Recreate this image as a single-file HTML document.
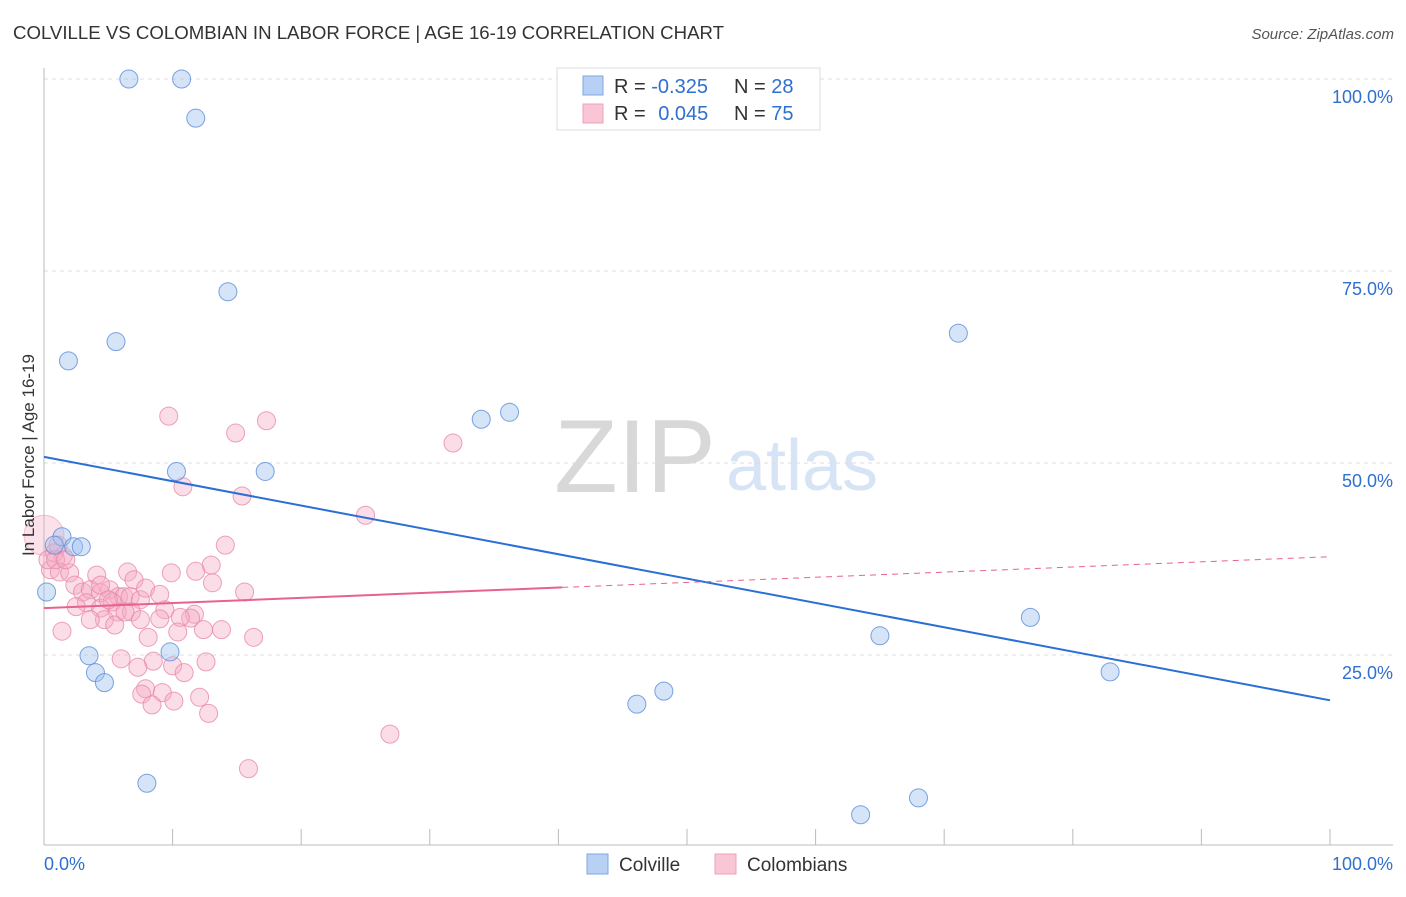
<!DOCTYPE html>
<html><head><meta charset="utf-8"><style>
body{margin:0;background:#fff;font-family:"Liberation Sans",sans-serif;}
svg text{font-family:"Liberation Sans",sans-serif;}
</style></head><body>
<svg id="chart" width="1406" height="892" xmlns="http://www.w3.org/2000/svg">
<text x="13" y="39" font-size="18" fill="#333" textLength="711" lengthAdjust="spacingAndGlyphs">COLVILLE VS COLOMBIAN IN LABOR FORCE | AGE 16-19 CORRELATION CHART</text>
<text x="1394" y="39" font-size="15" fill="#555" text-anchor="end" font-style="italic">Source: ZipAtlas.com</text>
<g>
<text x="635" y="492" font-size="104" fill="#d8d8d8" text-anchor="middle" font-family="Liberation Serif,serif">ZIP</text>
<text x="802" y="490" font-size="72" fill="#d6e4f5" text-anchor="middle">atlas</text>
</g>
<g id="grid"></g>
<g id="axes"></g>
<g id="marks"></g>
<text transform="translate(34,455) rotate(-90)" font-size="17" fill="#333" text-anchor="middle">In Labor Force | Age 16-19</text>
<g>
<rect x="557" y="68" width="263" height="62" fill="#fff" stroke="#ddd"/>
<rect x="583" y="76" width="20" height="19" fill="#b7d0f3" stroke="#7ea7e3"/>
<rect x="583" y="104" width="20" height="19" fill="#f9c6d5" stroke="#eea0b8"/>
<text x="614" y="93" font-size="20" fill="#333">R = <tspan fill="#2f6fd0">-0.325</tspan></text>
<text x="734" y="93" font-size="20" fill="#333">N = <tspan fill="#2f6fd0">28</tspan></text>
<text x="614" y="120" font-size="20" fill="#333">R = <tspan fill="#2f6fd0" dx="7">0.045</tspan></text>
<text x="734" y="120" font-size="20" fill="#333">N = <tspan fill="#2f6fd0">75</tspan></text>
</g>
<g>
<rect x="587" y="854" width="21" height="20" fill="#b7d0f3" stroke="#7ea7e3"/>
<text x="619" y="871" font-size="19" fill="#333">Colville</text>
<rect x="715" y="854" width="21" height="20" fill="#f9c6d5" stroke="#eea0b8"/>
<text x="747" y="871" font-size="19" fill="#333">Colombians</text>
</g>
</svg>
<script>
const yTicks=[25,50,75,100];
const yTickLabels=["25.0%","50.0%","75.0%","100.0%"];
const xTicks=[0,10,20,30,40,50,60,70,80,90,100];
const colvilleX=[6.6,10.7,11.8,14.3,5.6,1.9,10.3,17.2,34.0,36.2,71.1,1.4,2.3,2.9,0.8,0.2,3.5,4.0,4.7,9.8,8.0,46.1,48.2,65.0,76.7,82.9,63.5,68.0];
const colvilleY=[100,100,94.9,72.3,65.8,63.3,48.9,48.9,55.7,56.6,66.9,40.4,39.1,39.1,39.3,33.2,24.9,22.7,21.4,25.4,8.3,18.6,20.3,27.5,29.9,22.8,4.2,6.4];
const colombX=[9.7,17.3,14.9,31.8,10.8,15.4,25.0,14.1,13.0,9.9,11.8,6.5,4.1,13.1,15.6,0.8,1.5,0.5,1.2,2.0,2.4,3.0,3.6,4.4,5.1,5.8,6.2,6.7,7.5,5.3,3.3,2.5,4.4,5.7,6.8,9.4,11.7,11.4,10.6,9.0,4.7,3.6,5.5,8.1,10.4,12.4,13.8,16.3,1.4,6.0,8.5,10.0,12.6,10.9,7.3,7.9,7.6,9.2,8.4,10.1,12.1,12.8,26.9,15.9,1.1,0.3,0.9,1.7,4.4,7.0,7.9,9.0,6.3,7.5,5.0];
const colombY=[56.1,55.5,53.9,52.6,46.9,45.7,43.2,39.3,36.7,35.7,35.9,35.8,35.4,34.4,33.2,38.3,37.9,36.1,35.8,35.7,34.1,33.2,33.5,33.1,33.5,32.6,32.6,32.6,32.2,31.9,31.8,31.3,31.1,30.6,30.6,30.9,30.3,29.8,29.9,29.7,29.6,29.6,28.9,27.3,28.0,28.3,28.3,27.3,28.1,24.5,24.2,23.6,24.1,22.7,23.4,20.6,19.9,20.1,18.5,19.0,19.5,17.4,14.7,10.2,39.3,37.4,37.4,37.4,34.1,34.8,33.7,32.9,30.6,29.6,32.2];
const blueTrend=[50.8,19.1];
const pinkTrend=[31.1,37.8];
const pinkSolidEnd=40.3;

const NS="http://www.w3.org/2000/svg";
const X=v=>44+v*12.86, Y=v=>847-v*7.68;
function mk(parent,tag,attrs){const e=document.createElementNS(NS,tag);for(const k in attrs)e.setAttribute(k,attrs[k]);parent.appendChild(e);return e;}
const grid=document.getElementById('grid'),axes=document.getElementById('axes'),marks=document.getElementById('marks');
yTicks.forEach((t,i)=>{
  const l=mk(grid,'line',{x1:44,x2:1393,y1:Y(t),y2:Y(t),stroke:'#ddd','stroke-dasharray':'4,4'});
  
  
  const tx=mk(grid,'text',{x:1393,y:Y(t)+24,'font-size':18,fill:'#2f6fd0','text-anchor':'end'});
  tx.textContent=yTickLabels[i];
  
  
});
const xa=mk(axes,'line',{x1:44,x2:1393,y1:845,y2:845,stroke:'#bbb'});


const ya=mk(axes,'line',{x1:44,x2:44,y1:68,y2:845,stroke:'#bbb'});


xTicks.forEach(t=>{
  const l=mk(axes,'line',{x1:X(t),x2:X(t),y1:829,y2:845,stroke:'#bbb'});
  
  
});
const xl0=mk(axes,'text',{x:44,y:870,'font-size':18,fill:'#2f6fd0'});xl0.textContent='0.0%';


const xl1=mk(axes,'text',{x:1393,y:870,'font-size':18,fill:'#2f6fd0','text-anchor':'end'});xl1.textContent='100.0%';


const big=mk(marks,'circle',{cx:X(0),cy:Y(40.6),r:20,fill:'rgba(244,170,195,0.35)',stroke:'rgba(233,138,168,0.5)'});


colombX.forEach((x,i)=>{
  const c=mk(marks,'circle',{cx:X(x),cy:Y(colombY[i]),r:9,fill:'rgba(244,170,195,0.4)',stroke:'rgba(233,138,168,0.8)'});
  
  
});
colvilleX.forEach((x,i)=>{
  const c=mk(marks,'circle',{cx:X(x),cy:Y(colvilleY[i]),r:9,fill:'rgba(164,196,240,0.45)',stroke:'rgba(90,140,220,0.8)'});
  
  
});
const bl=mk(marks,'line',{x1:X(0),y1:Y(blueTrend[0]),x2:X(100),y2:Y(blueTrend[1]),stroke:'#2a6fd6','stroke-width':2});


const pe=pinkTrend[0]+(pinkTrend[1]-pinkTrend[0])*pinkSolidEnd/100;
const pl=mk(marks,'line',{x1:X(0),y1:Y(pinkTrend[0]),x2:X(pinkSolidEnd),y2:Y(pe),stroke:'#e8628f','stroke-width':2});


const pd=mk(marks,'line',{x1:X(pinkSolidEnd),y1:Y(pe),x2:X(100),y2:Y(pinkTrend[1]),stroke:'#e8628f','stroke-width':1,'stroke-dasharray':'6,5'});


</script>
</body></html>
